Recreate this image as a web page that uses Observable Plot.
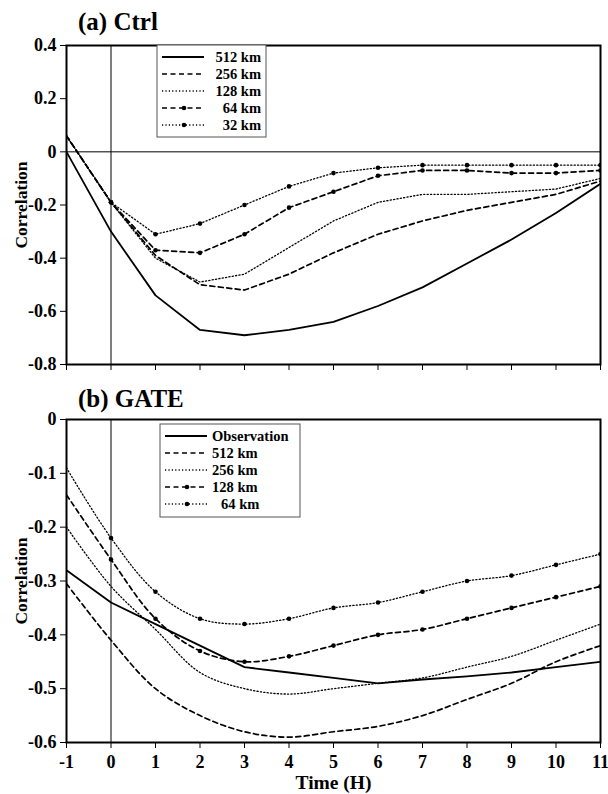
<!DOCTYPE html>
<html>
<head>
<meta charset="utf-8">
<script src="https://cdn.jsdelivr.net/npm/d3@7"></script>
<script src="https://cdn.jsdelivr.net/npm/@observablehq/plot@0.6"></script>
<style>
  html, body { margin: 0; padding: 0; background: #fff; }
  #wrap { width: 608px; height: 794px; position: relative; overflow: hidden; }
  #wrap svg { display: block; }
  #wrap svg g[aria-label$="tick label"] text { font-size: 18px !important; font-weight: bold; }
  #wrap svg g[aria-label="y-axis label"] text { font-size: 17.5px !important; font-weight: bold; }
  #wrap svg g[aria-label="x-axis label"] text { font-size: 19.5px !important; font-weight: bold; }
</style>
</head>
<body>
<div id="wrap"></div>
<script>
// ---- Data ----
const hours = [-1, 0, 1, 2, 3, 4, 5, 6, 7, 8, 9, 10, 11];

// (a) Ctrl
const ctrlNames = ["512 km", "256 km", "128 km", "64 km", "32 km"];
const ctrl512 = [0.00, -0.30, -0.54, -0.67, -0.69, -0.67, -0.64, -0.58, -0.51, -0.42, -0.33, -0.23, -0.12];
const ctrl256 = [0.06, -0.19, -0.39, -0.50, -0.52, -0.46, -0.38, -0.31, -0.26, -0.22, -0.19, -0.16, -0.11];
const ctrl128 = [0.06, -0.19, -0.40, -0.49, -0.46, -0.36, -0.26, -0.19, -0.16, -0.16, -0.15, -0.14, -0.10];
const ctrl64  = [0.06, -0.19, -0.37, -0.38, -0.31, -0.21, -0.15, -0.09, -0.07, -0.07, -0.08, -0.08, -0.07];
const ctrl32  = [0.06, -0.19, -0.31, -0.27, -0.20, -0.13, -0.08, -0.06, -0.05, -0.05, -0.05, -0.05, -0.05];

// (b) GATE
const gateNames = ["Observation", "512 km", "256 km", "128 km", "64 km"];
const gateObs = [-0.28, -0.34, -0.38, -0.42, -0.46, -0.47, -0.48, -0.49, -0.483, -0.477, -0.47, -0.46, -0.45];
const gate512 = [-0.305, -0.41, -0.50, -0.55, -0.58, -0.59, -0.58, -0.57, -0.55, -0.52, -0.49, -0.45, -0.42];
const gate256 = [-0.20, -0.31, -0.39, -0.47, -0.50, -0.51, -0.50, -0.49, -0.48, -0.46, -0.44, -0.41, -0.38];
const gate128 = [-0.14, -0.26, -0.37, -0.43, -0.45, -0.44, -0.42, -0.40, -0.39, -0.37, -0.35, -0.33, -0.31];
const gate64  = [-0.09, -0.22, -0.32, -0.37, -0.38, -0.37, -0.35, -0.34, -0.32, -0.30, -0.29, -0.27, -0.25];

const ctrlTicks = [0.4, 0.2, 0, -0.2, -0.4, -0.6, -0.8];
const gateTicks = [0, -0.1, -0.2, -0.3, -0.4, -0.5, -0.6];
const xTicks = hours;

// ---- Styles (not data) ----
const styles = [
  {dash: null, width: 1.8, dots: false},      // solid
  {dash: "5,3.5", width: 1.7, dots: false},   // dashed
  {dash: "1.2,2.2", width: 1.3, dots: false}, // dotted
  {dash: "5,3.5", width: 1.7, dots: true},    // dashed + dots
  {dash: "1.2,2.2", width: 1.3, dots: true}   // dotted + dots
];

const FONT = "'Liberation Serif', 'DejaVu Serif', serif";
const fmt = d => d === 0 ? "0" : d.toFixed(1).replace("\u2212", "-");

function rows(names, series) {
  const out = [];
  names.forEach((n, i) => series[i].forEach((v, j) => out.push({name: n, idx: i, t: hours[j], v})));
  return out;
}

function panel({names, series, yDomain, yTicks, height, marginTop, marginBottom, showXLabels, zeroLine, curve, title, legend}) {
  const data = rows(names, series);
  const marks = [];
  if (zeroLine) marks.push(Plot.ruleY([0], {stroke: "black", strokeWidth: 1}));
  marks.push(Plot.ruleX([0], {stroke: "black", strokeWidth: 1}));
  names.forEach((n, i) => {
    const st = styles[i];
    const d = data.filter(r => r.idx === i);
    marks.push(Plot.line(d, {x: "t", y: "v", stroke: "black", strokeWidth: st.width,
      strokeDasharray: st.dash, curve: (i === 0 ? "linear" : curve)}));
    if (st.dots) marks.push(Plot.dot(d.filter(r => r.t >= 0), {x: "t", y: "v", r: 2.3, fill: "black", stroke: "none"}));
  });
  marks.push(Plot.axisY({ticks: yTicks, tickFormat: fmt, tickSize: 6, tickPadding: 4,
    label: "Correlation", labelAnchor: "center", labelArrow: "none", labelOffset: 52,
    fontSize: 18, fontWeight: "bold"}));
  marks.push(Plot.axisX({ticks: xTicks, tickSize: 6, tickPadding: 7,
    tickFormat: showXLabels ? (d => String(d)) : () => "",
    label: showXLabels ? "Time (H)" : null, labelAnchor: "center", labelArrow: "none", labelOffset: 46,
    fontSize: 18, fontWeight: "bold"}));
  marks.push(Plot.frame({stroke: "black", strokeWidth: 2}));

  const svg = Plot.plot({
    width: 608, height, marginLeft: 66, marginRight: 8, marginTop, marginBottom,
    x: {domain: [-1, 11]},
    y: {domain: yDomain},
    clip: true,
    style: {fontFamily: FONT, fontWeight: "bold", fontSize: "18px", color: "black", background: "white", overflow: "visible"},
    marks
  });

  const s = d3.select(svg);
  s.append("text").attr("x", 78).attr("y", title.y).attr("font-family", FONT).attr("text-anchor", "start")
    .attr("font-weight", "bold").attr("font-size", 25).attr("fill", "black").text(title.text);

  // legend
  const g = s.append("g").attr("font-family", FONT).attr("font-weight", "bold").attr("font-size", 14.5)
    .attr("text-anchor", "start");
  g.append("rect").attr("x", legend.x).attr("y", legend.y).attr("width", legend.w).attr("height", legend.h)
    .attr("fill", "white").attr("stroke", "#555").attr("stroke-width", 1);
  names.forEach((n, i) => {
    const st = styles[i];
    const yy = legend.y + legend.first + i * 17;
    const x0 = legend.x + 5, x1 = legend.x + 47;
    g.append("line").attr("x1", x0).attr("x2", x1).attr("y1", yy).attr("y2", yy)
      .attr("stroke", "black").attr("stroke-width", st.width)
      .attr("stroke-dasharray", st.dash);
    if (st.dots) g.append("circle").attr("cx", (x0 + x1) / 2 + 1).attr("cy", yy).attr("r", 2.3).attr("fill", "black");
    const t = g.append("text").attr("y", yy + 5).attr("fill", "black").text(n);
    if (legend.anchor === "end") t.attr("x", legend.x + legend.w - 5).attr("text-anchor", "end");
    else t.attr("x", legend.x + 52 + (n === "64 km" ? 9 : 0)).attr("text-anchor", "start");
  });
  return svg;
}

const wrap = document.getElementById("wrap");
wrap.appendChild(panel({
  names: ctrlNames, series: [ctrl512, ctrl256, ctrl128, ctrl64, ctrl32],
  yDomain: [-0.8, 0.4], yTicks: ctrlTicks, height: 390, marginTop: 45, marginBottom: 26,
  showXLabels: false, zeroLine: true, curve: "linear",
  title: {text: "(a) Ctrl", y: 30},
  legend: {x: 157, y: 45, w: 109, h: 92, first: 12, anchor: "end"}
}));
wrap.appendChild(panel({
  names: gateNames, series: [gateObs, gate512, gate256, gate128, gate64],
  yDomain: [-0.6, 0], yTicks: gateTicks, height: 404, marginTop: 29, marginBottom: 52,
  showXLabels: true, zeroLine: false, curve: "catmull-rom",
  title: {text: "(b) GATE", y: 17},
  legend: {x: 160, y: 34, w: 140, h: 93, first: 12, anchor: "start"}
}));
</script>
</body>
</html>
